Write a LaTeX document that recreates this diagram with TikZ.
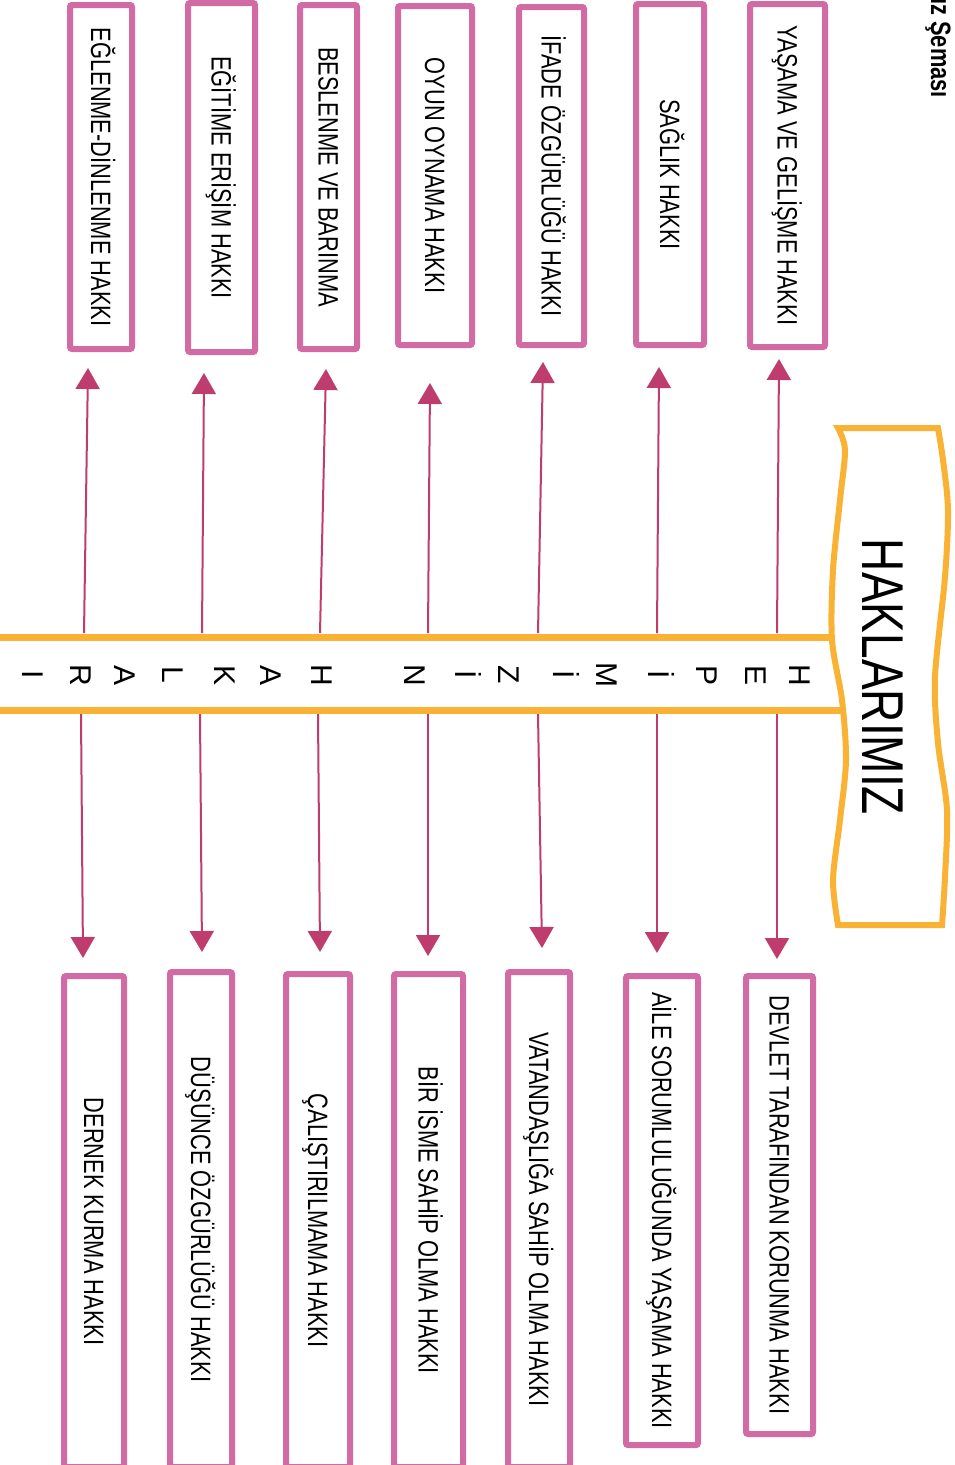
\documentclass[tikz,border=0pt]{standalone}
\usepackage{fontspec}
\setmainfont{Liberation Sans}
\newfontfamily\narrowfont[FakeStretch=0.78]{Liberation Sans}
\usetikzlibrary{arrows.meta}
\definecolor{boxpink}{RGB}{210,106,164}
\definecolor{arrpink}{RGB}{190,60,110}
\definecolor{orng}{RGB}{249,178,51}
\begin{document}
\begin{tikzpicture}[x=1pt,y=-1pt,
  box/.style={draw=boxpink, line width=6pt, rounded corners=2pt, fill=white, rotate=-90, inner sep=0pt,
    font=\narrowfont\fontsize{28}{30}\selectfont, text height=20pt, text depth=0pt},
  arr/.style={draw=arrpink, line width=2pt, -{Triangle[width=24pt,length=21pt]}},
  barletter/.style={rotate=-90, anchor=base, inner sep=0pt, font=\fontsize{30}{32}\selectfont},
  barline/.style={draw=orng, line width=7pt},
]
\useasboundingbox[fill=white] (0,0) rectangle (955,1465);

% header
\node[rotate=-90, anchor=east, inner sep=0pt, font=\narrowfont\bfseries\fontsize{28}{30}\selectfont] (hdr) at (938,98) {ız Şeması};

% central bar
\coordinate (barTL) at (-10,637);
\coordinate (barTR) at (850,637);
\coordinate (barBL) at (-10,710);
\coordinate (barBR) at (850,710);
\draw[barline] (barTL) -- (barTR);
\draw[barline] (barBL) -- (barBR);

% banner
\draw[draw=orng, line width=6pt, fill=white, line join=miter]
  plot[smooth] coordinates {(838,428) (845,450) (840,500) (833,570) (832,640) (842,700) (846,760) (840,820) (833,880) (838,925)}
  -- plot[smooth] coordinates {(942,925) (945,877) (947,810) (938,743) (935,677) (945,577) (948,510) (943,460) (938,428)}
  -- cycle;
\node[rotate=-90, inner sep=0pt, font=\narrowfont\fontsize{59}{60}\selectfont, text height=42pt, text depth=0pt] (title) at (883.5,677) {HAKLARIMIZ};

% bar letters
\foreach \l/\x [count=\i] in {H/800,E/756,P/707,İ/659,M/607,İ/564,Z/509,İ/466,N/415,H/322,A/271,K/225,L/173,A/125,R/81,I/33}
  \node[barletter] (L\i) at (\x-11,675) {\l};

% top boxes
\node[box, minimum width=344pt, minimum height=62pt] (t1) at (101,177) {EĞLENME-DİNLENME HAKKI};
\node[box, minimum width=349pt, minimum height=67pt] (t2) at (221.5,177.5) {EĞİTİME ERİŞİM HAKKI};
\node[box, minimum width=344pt, minimum height=57pt] (t3) at (328.5,177) {BESLENME VE BARINMA};
\node[box, minimum width=339pt, minimum height=74pt] (t4) at (435,175.5) {OYUN OYNAMA HAKKI};
\node[box, minimum width=338pt, minimum height=65pt] (t5) at (551.5,176) {İFADE ÖZGÜRLÜĞÜ HAKKI};
\node[box, minimum width=341pt, minimum height=68pt] (t6) at (670,174.5) {SAĞLIK HAKKI};
\node[box, minimum width=343pt, minimum height=75pt] (t7) at (787.5,175.5) {YAŞAMA VE GELİŞME HAKKI};

% bottom boxes
\node[box, minimum width=491pt, minimum height=60pt] (b1) at (94,1221.5) {DERNEK KURMA HAKKI};
\node[box, minimum width=495pt, minimum height=62pt] (b2) at (201,1219.5) {DÜŞÜNCE ÖZGÜRLÜĞÜ HAKKI};
\node[box, minimum width=493pt, minimum height=64pt] (b3) at (318,1220.5) {ÇALIŞTIRILMAMA HAKKI};
\node[box, minimum width=493pt, minimum height=69pt] (b4) at (428.5,1220.5) {BİR İSME SAHİP OLMA HAKKI};
\node[box, minimum width=495pt, minimum height=62pt] (b5) at (539,1219.5) {VATANDAŞLIĞA SAHİP OLMA HAKKI};
\node[box, minimum width=469pt, minimum height=72pt] (b6) at (662,1210.5) {AİLE SORUMLULUĞUNDA YAŞAMA HAKKI};
\node[box, minimum width=458pt, minimum height=67pt] (b7) at (779.5,1205) {DEVLET TARAFINDAN KORUNMA HAKKI};

% arrows (bar -> boxes)
\foreach \i/\bx/\tx/\ty in {1/84/88/368, 2/202/204/373, 3/320/326/369, 4/428/430/383, 5/538/543/362, 6/657/659/367, 7/777/779/359} {
  \coordinate (bt\i) at (\bx,633);
  \coordinate (tt\i) at (\tx,\ty);
  \draw[arr] (bt\i) -- (tt\i);
}
\foreach \i/\bx/\tx/\ty in {1/81/83/958, 2/200/202/952, 3/318/320/952, 4/428/428/956, 5/538/542/948, 6/657/657/953, 7/777/777/959} {
  \coordinate (bb\i) at (\bx,714);
  \coordinate (tb\i) at (\tx,\ty);
  \draw[arr] (bb\i) -- (tb\i);
}
\end{tikzpicture}
\end{document}
